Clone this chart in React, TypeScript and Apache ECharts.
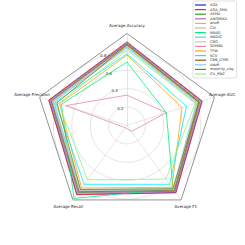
import { useEffect, useRef } from "react";
import * as echarts from "echarts";

const indicatorNames = ["Average Accuracy", "Average Precision", "Average Recall", "Average F1", "Average AUC"];
const radialTicks = [0.2, 0.4, 0.6, 0.8];

const methodNames = [
  "AOA", "AOA_SMA", "AEMA", "ANOMIKA", "anoR", "CAI", "NNAD", "NNDIG",
  "CBO", "SDMBA", "TFW", "KCV", "CBB_LTMS", "AdvR", "majority_clsy", "CIL_RNC",
];
const methodColors = [
  "#2424d8", "#e02a2a", "#2ca02c", "#c462c4", "#c8c832", "#d2b48c", "#00f07a", "#40e0d0",
  "#d8bfd8", "#e48aa6", "#ffa500", "#00f0ff", "#8b5a2b", "#87cefa", "#808000", "#90ee90",
];

// values: [Accuracy, Precision, Recall, F1, AUC]
const vAOA = [0.9, 0.89, 0.925, 0.9, 0.855];
const vAOA_SMA = [0.91, 0.895, 0.93, 0.905, 0.86];
const vAEMA = [0.885, 0.875, 0.9, 0.885, 0.835];
const vANOMIKA = [0.895, 0.88, 0.91, 0.89, 0.845];
const vAnoR = [0.85, 0.84, 0.87, 0.86, 0.8];
const vCAI = [0.87, 0.86, 0.885, 0.87, 0.82];
const vNNAD = [0.69, 0.75, 0.98, 0.85, 0.45];
const vNNDIG = [0.86, 0.85, 0.88, 0.865, 0.81];
const vCBO = [0.855, 0.845, 0.875, 0.86, 0.805];
const vSDMBA = [0.33, 0.7, 0.03, 0.08, 0.45];
const vTFW = [0.765, 0.77, 0.84, 0.83, 0.63];
const vKCV = [0.78, 0.82, 0.79, 0.79, 0.68];
const vCBB_LTMS = [0.88, 0.865, 0.89, 0.875, 0.825];
const vAdvR = [0.84, 0.835, 0.86, 0.85, 0.79];
const vMajority = [0.875, 0.8, 0.86, 0.85, 0.82];
const vCIL_RNC = [0.82, 0.78, 0.73, 0.72, 0.78];

const methodValues = [
  vAOA, vAOA_SMA, vAEMA, vANOMIKA, vAnoR, vCAI, vNNAD, vNNDIG,
  vCBO, vSDMBA, vTFW, vKCV, vCBB_LTMS, vAdvR, vMajority, vCIL_RNC,
];

const CENTER: [number, number] = [127, 125.5];
const RADIUS = 92;
const FONT = "DejaVu Sans";

export default function App() {
  const ref = useRef<HTMLDivElement>(null);
  useEffect(() => {
    if (!ref.current) return;
    const chart = echarts.init(ref.current, undefined, { renderer: "svg" });
    const tickMax = radialTicks[radialTicks.length - 1];
    chart.setOption({
      animation: false,
      backgroundColor: "#ffffff",
      polar: { center: CENTER, radius: RADIUS * tickMax },
      angleAxis: {
        startAngle: 108,
        show: false,
        min: 0,
        max: 360,
      },
      radiusAxis: {
        min: 0,
        max: tickMax,
        interval: 0.2,
        axisLine: { show: false },
        axisTick: { show: false },
        axisLabel: {
          show: true,
          margin: 1,
          fontSize: 4,
          fontFamily: FONT,
          color: "#333",
          align: "center",
          verticalAlign: "middle",
          formatter: (v: number) => (radialTicks.some((t) => Math.abs(t - v) < 1e-6) ? v.toFixed(1) : ""),
        },
        splitLine: { show: true, lineStyle: { color: "#d4d4d4", width: 0.6 } },
      },
      radar: {
        center: CENTER,
        radius: RADIUS,
        startAngle: 90,
        shape: "polygon",
        splitNumber: 1,
        indicator: indicatorNames.map((n) => ({ name: n, min: 0, max: 1 })),
        nameGap: 8,
        axisName: {
          fontSize: 4,
          fontFamily: FONT,
          color: "#222",
          align: "center",
          verticalAlign: "middle",
        },
        axisLine: { lineStyle: { color: "#d4d4d4", width: 0.6 } },
        axisTick: { show: false },
        axisLabel: { show: false },
        splitLine: { lineStyle: { color: "#777", width: 0.8 } },
        splitArea: { show: false },
      },
      legend: {
        orient: "vertical",
        left: 193,
        top: 1,
        data: methodNames,
        icon: "rect",
        itemWidth: 11,
        itemHeight: 1.2,
        itemGap: 0.6,
        padding: [2, 3, 2, 2],
        backgroundColor: "#fff",
        borderColor: "#ccc",
        borderWidth: 0.6,
        borderRadius: 1.5,
        textStyle: { fontSize: 3.6, lineHeight: 4, fontFamily: FONT, color: "#333", padding: [0, 0, 0, -1] },
      },
      series: methodNames.map((name, i) => ({
        type: "radar",
        name,
        symbol: "none",
        z: 2 + i,
        itemStyle: { color: methodColors[i] },
        lineStyle: { color: methodColors[i], width: 0.8 },
        data: [{ name, value: methodValues[i] }],
      })),
    });
    return () => chart.dispose();
  }, []);
  return (
    <div
      ref={ref}
      style={{ position: "fixed", left: 0, top: 0, width: 245, height: 245 }}
    />
  );
}
